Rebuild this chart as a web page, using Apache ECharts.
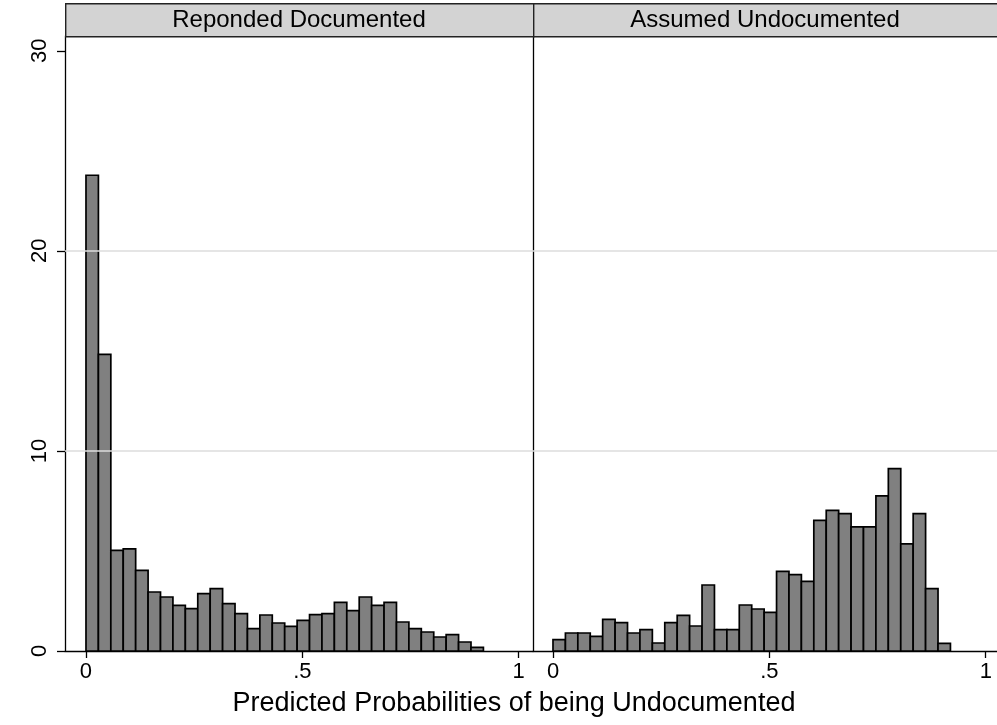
<!DOCTYPE html>
<html>
<head>
<meta charset="utf-8">
<script src="https://cdn.jsdelivr.net/npm/echarts@6/dist/echarts.min.js"></script>
<style>
html,body{margin:0;padding:0;background:#fff;}
#chart{width:997px;height:725px;}
</style>
</head>
<body>
<div id="chart"></div>
<script>
// ---- data (percent per bin) ----
const panelTitles = ['Reponded Documented', 'Assumed Undocumented'];
const axisTitle = 'Predicted Probabilities of being Undocumented';
const binStart = 0;
const binWidth = 0.0287;
const documented = [23.78, 14.83, 5.03, 5.10, 4.03, 2.95, 2.70, 2.28, 2.12, 2.87, 3.12, 2.37, 1.87, 1.12, 1.80, 1.40,
                    1.23, 1.53, 1.82, 1.87, 2.43, 2.02, 2.70, 2.28, 2.43, 1.45, 1.12, 0.95, 0.70, 0.82, 0.45, 0.18];
const undocumented = [0.57, 0.90, 0.90, 0.73, 1.58, 1.42, 0.90, 1.07, 0.40, 1.42, 1.78, 1.25, 3.30, 1.07, 1.07, 2.30,
                      2.10, 1.93, 3.98, 3.82, 3.48, 6.53, 7.03, 6.87, 6.20, 6.20, 7.75, 9.12, 5.35, 6.87, 3.12, 0.38];
const xTickValues = [0, 0.5, 1];
const xTickLabels = ['0', '.5', '1'];
const yTickValues = [0, 10, 20, 30];
const yGridValues = [10, 20];

function toBins(arr) {
  return arr.map((v, i) => [binStart + i * binWidth, binStart + (i + 1) * binWidth, v]);
}

const FONT = 'Liberation Sans, Arial, sans-serif';
const chart = echarts.init(document.getElementById('chart'), null, {renderer: 'canvas'});

function renderBar(params, api) {
  const p0 = api.coord([api.value(0), 0]);
  const p1 = api.coord([api.value(1), api.value(2)]);
  return {
    type: 'rect',
    shape: {x: p0[0], y: p1[1], width: p1[0] - p0[0], height: p0[1] - p1[1]},
    style: {fill: '#808080', stroke: '#000', lineWidth: 1.7}
  };
}

const grids = [
  {left: 65, top: 36, width: 468, height: 615},
  {left: 533, top: 36, width: 464, height: 615}
];
const xRanges = [[-0.0485, 1.033], [-0.0462, 1.026]];
const yMax = 30.74;

const xAxes = xRanges.map((r, i) => ({
  type: 'value', gridIndex: i, min: r[0], max: r[1],
  axisLine: {show: true, onZero: false, lineStyle: {color: '#000', width: 1.3}},
  axisTick: {show: true, customValues: xTickValues, length: 7, lineStyle: {color: '#000', width: 1.3}},
  axisLabel: {show: true, customValues: xTickValues, margin: 10, color: '#000', fontFamily: FONT, fontSize: 22,
    formatter: v => xTickLabels[xTickValues.indexOf(+v.toFixed(3))] ?? ''},
  splitLine: {show: false}
}));

const yAxes = [0, 1].map(i => ({
  type: 'value', gridIndex: i, min: 0, max: yMax,
  axisLine: {show: true, onZero: false, lineStyle: {color: '#000', width: 1.3}},
  axisTick: {show: i === 0, customValues: yTickValues, length: 8, lineStyle: {color: '#000', width: 1.3}},
  axisLabel: {show: i === 0, customValues: yTickValues, rotate: 90, margin: 14, color: '#000', fontFamily: FONT, fontSize: 22},
  splitLine: {show: false}
}));

const gridSeries = [0, 1].map(i => ({
  type: 'line', xAxisIndex: i, yAxisIndex: i, data: [], z: 1, silent: true,
  markLine: {
    silent: true, symbol: 'none', animation: false,
    label: {show: false},
    lineStyle: {color: '#dcdcdc', width: 1.5, type: 'solid'},
    data: yGridValues.map(v => ({yAxis: v}))
  }
}));

const barSeries = [documented, undocumented].map((arr, i) => ({
  type: 'custom', xAxisIndex: i, yAxisIndex: i, z: 3,
  renderItem: renderBar,
  encode: {x: [0, 1], y: 2},
  data: toBins(arr)
}));

const graphics = [];
grids.forEach((g, i) => {
  graphics.push({
    type: 'rect', left: g.left, top: 3, z: 10,
    shape: {x: 0, y: 0, width: g.width, height: 33},
    style: {fill: '#d3d3d3', stroke: '#222', lineWidth: 1.4}
  });
  graphics.push({
    type: 'text', z: 11,
    x: g.left + g.width / 2, y: 20,
    style: {text: panelTitles[i], fill: '#000', font: '24px ' + FONT, textAlign: 'center', textVerticalAlign: 'middle'}
  });
});
graphics.push({
  type: 'text', z: 11, x: 514, y: 704,
  style: {text: axisTitle, fill: '#000', font: '27px ' + FONT, textAlign: 'center', textVerticalAlign: 'middle'}
});

chart.setOption({
  animation: false,
  backgroundColor: '#fff',
  grid: grids,
  xAxis: xAxes,
  yAxis: yAxes,
  series: gridSeries.concat(barSeries),
  graphic: graphics
});
</script>
</body>
</html>
